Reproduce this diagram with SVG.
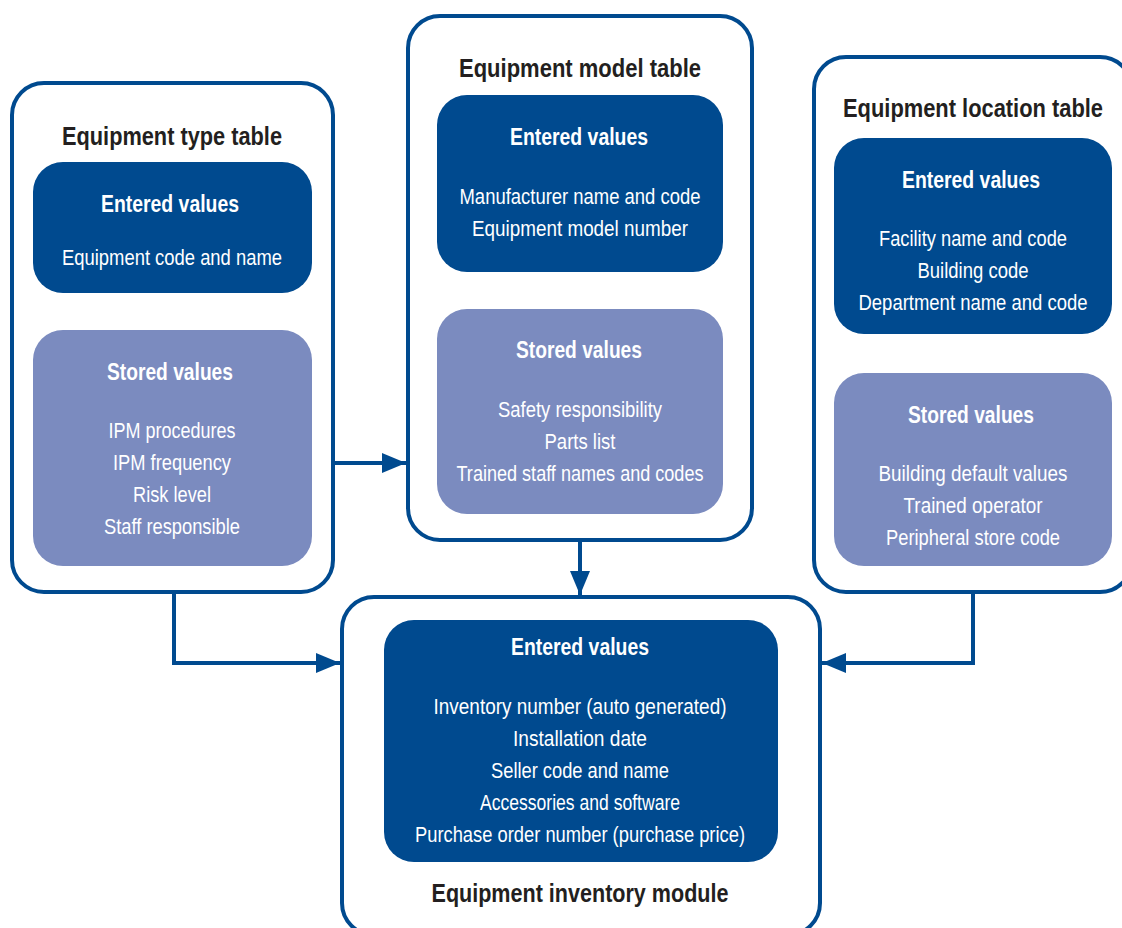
<svg xmlns="http://www.w3.org/2000/svg" width="1122" height="928" viewBox="0 0 1122 928">
<style>
.outer{fill:#fff;stroke:#004a8f;stroke-width:4}
.ent{fill:#004a8f}
.sto{fill:#7b8bbf}
text{font-family:"Liberation Sans Narrow","Liberation Sans","DejaVu Sans Condensed",sans-serif;text-anchor:middle}
.title{fill:#231f20;font-size:25px;font-weight:bold}
.head{fill:#fff;font-size:23px;font-weight:bold}
.body{fill:#fff;font-size:22px}
.conn{fill:none;stroke:#004a8f;stroke-width:4}
</style>
<defs>
<marker id="arr" viewBox="0 0 24 20" refX="24" refY="10" markerWidth="24" markerHeight="20" markerUnits="userSpaceOnUse" orient="auto">
<path d="M0,0 L24,10 L0,20 Z" fill="#004a8f"/>
</marker>
</defs>
<rect width="1122" height="928" fill="#fff"/>

<g id="connectors">
<path class="conn" d="M333,463 H406" marker-end="url(#arr)"/>
<path class="conn" d="M580,540 V595" marker-end="url(#arr)"/>
<path class="conn" d="M174,592 V663 H340" marker-end="url(#arr)"/>
<path class="conn" d="M973,592 V663 H822" marker-end="url(#arr)"/>
</g>

<g id="type-table">
<rect class="outer" x="12" y="83" width="321" height="509" rx="32"/>
<text class="title" x="172" y="145" textLength="220" lengthAdjust="spacingAndGlyphs">Equipment type table</text>
<rect class="ent" x="33" y="162" width="279" height="131" rx="30"/>
<text class="head" x="170" y="212" textLength="138" lengthAdjust="spacingAndGlyphs">Entered values</text>
<text class="body" x="172" y="265" textLength="220" lengthAdjust="spacingAndGlyphs">Equipment code and name</text>
<rect class="sto" x="33" y="330" width="279" height="236" rx="30"/>
<text class="head" x="170" y="380" textLength="126" lengthAdjust="spacingAndGlyphs">Stored values</text>
<text class="body" x="172" y="438" textLength="127" lengthAdjust="spacingAndGlyphs">IPM procedures</text>
<text class="body" x="172" y="470" textLength="118" lengthAdjust="spacingAndGlyphs">IPM frequency</text>
<text class="body" x="172" y="502" textLength="78" lengthAdjust="spacingAndGlyphs">Risk level</text>
<text class="body" x="172" y="534" textLength="136" lengthAdjust="spacingAndGlyphs">Staff responsible</text>
</g>

<g id="model-table">
<rect class="outer" x="408" y="16" width="344" height="524" rx="32"/>
<text class="title" x="580" y="77" textLength="242" lengthAdjust="spacingAndGlyphs">Equipment model table</text>
<rect class="ent" x="437" y="95" width="286" height="177" rx="30"/>
<text class="head" x="579" y="145" textLength="138" lengthAdjust="spacingAndGlyphs">Entered values</text>
<text class="body" x="580" y="204" textLength="241" lengthAdjust="spacingAndGlyphs">Manufacturer name and code</text>
<text class="body" x="580" y="236" textLength="216" lengthAdjust="spacingAndGlyphs">Equipment model number</text>
<rect class="sto" x="437" y="309" width="286" height="205" rx="30"/>
<text class="head" x="579" y="358" textLength="126" lengthAdjust="spacingAndGlyphs">Stored values</text>
<text class="body" x="580" y="417" textLength="164" lengthAdjust="spacingAndGlyphs">Safety responsibility</text>
<text class="body" x="580" y="449" textLength="71" lengthAdjust="spacingAndGlyphs">Parts list</text>
<text class="body" x="580" y="481" textLength="247" lengthAdjust="spacingAndGlyphs">Trained staff names and codes</text>
</g>

<g id="location-table">
<rect class="outer" x="814" y="57" width="318" height="535" rx="32"/>
<text class="title" x="973" y="117" textLength="260" lengthAdjust="spacingAndGlyphs">Equipment location table</text>
<rect class="ent" x="834" y="138" width="278" height="196" rx="30"/>
<text class="head" x="971" y="188" textLength="138" lengthAdjust="spacingAndGlyphs">Entered values</text>
<text class="body" x="973" y="246" textLength="188" lengthAdjust="spacingAndGlyphs">Facility name and code</text>
<text class="body" x="973" y="278" textLength="111" lengthAdjust="spacingAndGlyphs">Building code</text>
<text class="body" x="973" y="310" textLength="229" lengthAdjust="spacingAndGlyphs">Department name and code</text>
<rect class="sto" x="834" y="373" width="278" height="193" rx="30"/>
<text class="head" x="971" y="423" textLength="126" lengthAdjust="spacingAndGlyphs">Stored values</text>
<text class="body" x="973" y="481" textLength="189" lengthAdjust="spacingAndGlyphs">Building default values</text>
<text class="body" x="973" y="513" textLength="139" lengthAdjust="spacingAndGlyphs">Trained operator</text>
<text class="body" x="973" y="545" textLength="174" lengthAdjust="spacingAndGlyphs">Peripheral store code</text>
</g>

<g id="inventory-module">
<rect class="outer" x="342" y="597" width="478" height="338" rx="32"/>
<rect class="ent" x="384" y="620" width="394" height="242" rx="30"/>
<text class="head" x="580" y="655" textLength="138" lengthAdjust="spacingAndGlyphs">Entered values</text>
<text class="body" x="580" y="714" textLength="293" lengthAdjust="spacingAndGlyphs">Inventory number (auto generated)</text>
<text class="body" x="580" y="746" textLength="134" lengthAdjust="spacingAndGlyphs">Installation date</text>
<text class="body" x="580" y="778" textLength="178" lengthAdjust="spacingAndGlyphs">Seller code and name</text>
<text class="body" x="580" y="810" textLength="200" lengthAdjust="spacingAndGlyphs">Accessories and software</text>
<text class="body" x="580" y="842" textLength="330" lengthAdjust="spacingAndGlyphs">Purchase order number (purchase price)</text>
<text class="title" x="580" y="902" textLength="297" lengthAdjust="spacingAndGlyphs">Equipment inventory module</text>
</g>
</svg>
